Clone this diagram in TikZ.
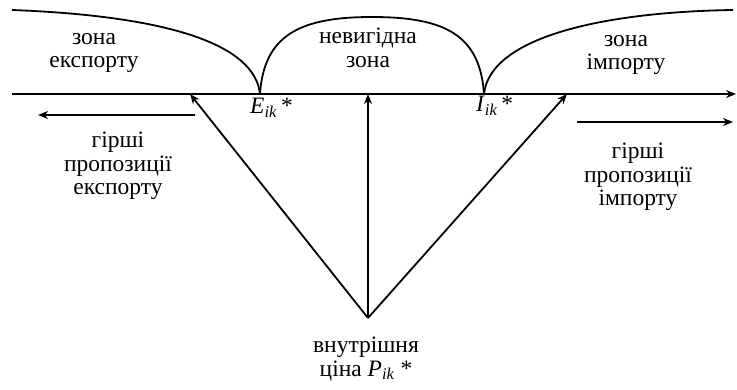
\documentclass[tikz,border=0pt]{standalone}
\usepackage{fontspec}
\setmainfont{Liberation Serif}
\usetikzlibrary{arrows.meta}
\begin{document}
\begin{tikzpicture}[x=1pt,y=-1pt,
  ln/.style={line width=1.8pt},
  arr/.style={ln,-{Stealth[length=10pt,width=8pt]}},
  lbl/.style={font=\fontsize{23.5}{23.5}\selectfont,align=center,inner sep=0pt}]
\useasboundingbox (0,0) rectangle (737,390);
% points
\coordinate (L) at (12,94);
\coordinate (R) at (736,94);
\coordinate (E) at (260,94);
\coordinate (I) at (484,94);
\coordinate (P) at (368,318);
\coordinate (A1) at (190,94);
\coordinate (A2) at (368,94);
\coordinate (A3) at (567,94);
\coordinate (TL) at (12,10);
\coordinate (TR) at (733,10);
\coordinate (S1) at (195,115);
\coordinate (S1e) at (38,115);
\coordinate (S2) at (577,122);
\coordinate (S2e) at (733,122);
% axis
\draw[arr] (L) -- (R);
% curves
\draw[ln] (TL) .. controls (170,16) and (255,45) .. (E);
\draw[ln] (E) .. controls (264,35) and (300,17) .. (372,17) .. controls (445,17) and (480,35) .. (I);
\draw[ln] (I) .. controls (490,38) and (600,12) .. (TR);
% arrows from P
\draw[arr] (P) -- (A1);
\draw[arr] (P) -- (A2);
\draw[arr] (P) -- (A3);
% side arrows
\draw[arr] (S1) -- (S1e);
\draw[arr] (S2) -- (S2e);
% labels
\node[lbl] (ze) at (94,53) {зона\\експорту};
\node[lbl] (nz) at (368,48) {невигідна\\зона};
\node[lbl] (zi) at (626,55) {зона\\імпорту};
\node[lbl,anchor=west] (Eik) at (250,108) {\textit{E}\textsubscript{\textit{ik}}\,*};
\node[lbl,anchor=west] (Iik) at (476,106) {\textit{I}\textsubscript{\textit{ik}}\,*};
\node[lbl] (ge) at (118,166) {гірші\\пропозиції\\експорту};
\node[lbl] (gi) at (638,177) {гірші\\пропозиції\\імпорту};
\node[lbl] (vc) at (366,359) {внутрішня\\ціна \textit{P}\textsubscript{\textit{ik}} *};
\end{tikzpicture}
\end{document}
